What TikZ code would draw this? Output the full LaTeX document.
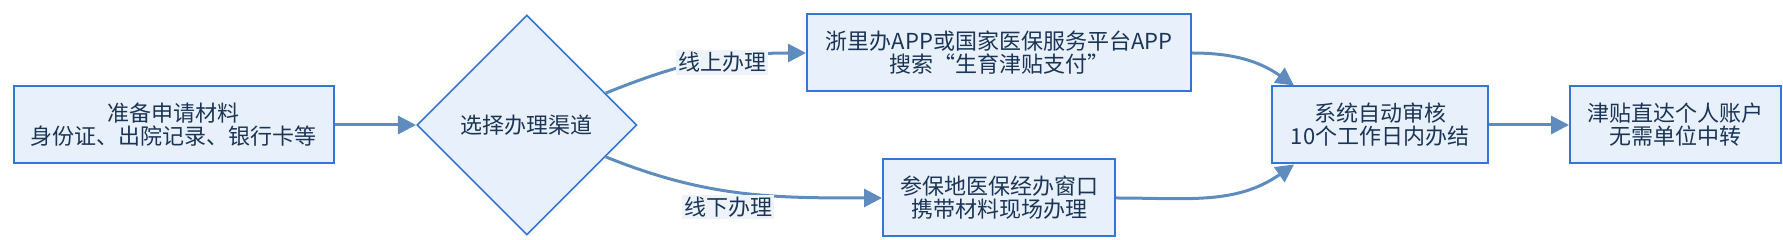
\documentclass[tikz,border=0pt]{standalone}
\usepackage{fontspec}
\setmainfont{Noto Sans CJK SC}
\usepackage{xcolor}
\usepackage{tikz}
\usetikzlibrary{arrows.meta, shapes.geometric, positioning}

\definecolor{boxfill}{HTML}{E8F0FB}
\definecolor{boxline}{HTML}{3575D6}
\definecolor{flowline}{HTML}{5F8CBE}
\definecolor{txt}{HTML}{1B3556}
\definecolor{lblfill}{HTML}{EEF3FA}

\begin{document}
\begin{tikzpicture}[
  x=0.5pt, y=0.5pt,
  block/.style   = {rectangle, draw=boxline, line width=1pt, fill=boxfill,
                    align=center, minimum height=38.5pt, inner sep=2pt,
                    text=txt, font=\fontsize{11}{11.5}\selectfont},
  decision/.style= {diamond, draw=boxline, line width=0.8pt, fill=boxfill,
                    align=center, minimum width=110pt, minimum height=110pt,
                    inner sep=0pt, text=txt, font=\fontsize{11}{11.5}\selectfont},
  arrow/.style   = {-{Triangle[length=9pt, width=9pt]}, draw=flowline,
                    line width=1.5pt},
  lbl/.style     = {fill=lblfill, inner sep=1pt, text=txt,
                    font=\fontsize{11}{11.5}\selectfont}
]

\useasboundingbox (0,0) rectangle (1783,240);

\node[block, minimum width=160pt] (prep) at (174,115)
  {准备申请材料\\身份证、出院记录、银行卡等};

\node[decision, right=40.5pt of prep] (choose) {选择办理渠道};

\node[block, minimum width=192pt] (online) at (999,187)
  {浙里办APP或国家医保服务平台APP\\搜索“生育津贴支付”};

\node[block, minimum width=116pt] (offline) at (999,42)
  {参保地医保经办窗口\\携带材料现场办理};

\node[block, minimum width=108pt] (audit) at (1380,115)
  {系统自动审核\\10个工作日内办结};

\node[block, minimum width=105.5pt, right=40pt of audit] (arrive)
  {津贴直达个人账户\\无需单位中转};

\draw[arrow] (prep) -- (choose);
\draw[arrow] (choose) to[out=22, in=180]
  node[lbl, pos=0.6, yshift=-2pt] {线上办理} (online);
\draw[arrow] (choose) to[out=-22, in=180]
  node[lbl, pos=0.45, below=1pt] {线下办理} (offline);
\draw[arrow] (online.east) to[out=0, in=145] ([xshift=11.5pt]audit.north west);
\draw[arrow] (offline.east) to[out=0, in=-145] ([xshift=11.5pt]audit.south west);
\draw[arrow] (audit) -- (arrive);

\end{tikzpicture}
\end{document}
